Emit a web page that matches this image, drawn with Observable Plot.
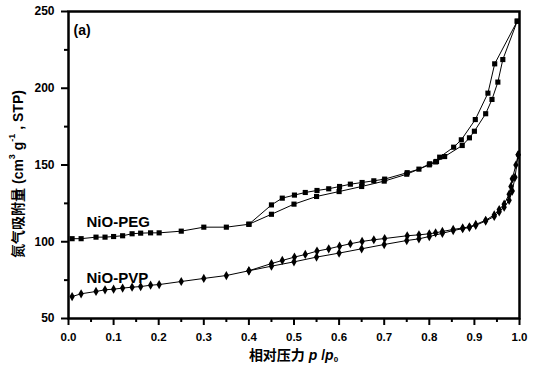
<!DOCTYPE html>
<html>
<head>
<meta charset="utf-8">
<script src="https://cdn.jsdelivr.net/npm/d3@7"></script>
<script src="https://cdn.jsdelivr.net/npm/@observablehq/plot@0.6"></script>
<style>
  html, body { margin: 0; padding: 0; background: #fff; }
  #chart { width: 533px; height: 371px; }
</style>
</head>
<body>
<div id="chart"></div>
<script>
// NiO-PEG adsorption branch (p/p0, volume)
const pegAdsP = [0.008,0.028,0.061,0.081,0.10,0.12,0.141,0.16,0.182,0.201,0.25,0.30,0.35,0.40,0.45,0.50,0.55,0.60,0.65,0.70,0.75,0.80,0.816,0.834,0.873,0.889,0.90,0.925,0.939,0.952,0.963,0.995];
const pegAdsV = [102,102,103,103,103.4,103.9,105.2,105.6,105.8,105.8,106.9,109.5,109.5,111.4,117.9,124.5,129.5,132.7,136,139.5,144,150.1,152.3,155.5,162.7,167.7,172,183.4,192.7,204,218.7,243.7];
// NiO-PEG desorption branch
const pegDesP = [0.995,0.945,0.930,0.902,0.871,0.854,0.823,0.814,0.801,0.777,0.751,0.701,0.677,0.651,0.625,0.601,0.577,0.551,0.525,0.501,0.474,0.45,0.40];
const pegDesV = [243.7,215.9,196.8,179.6,166.4,161.6,155.1,152,150.8,147.3,145,140.8,139.7,138.6,137.5,136.0,134.5,133.4,132.1,130.4,128.4,124,111.4];
// NiO-PVP adsorption branch
const pvpAdsP = [0.008,0.028,0.061,0.081,0.10,0.12,0.141,0.16,0.182,0.201,0.25,0.30,0.35,0.40,0.45,0.50,0.55,0.60,0.65,0.70,0.75,0.777,0.80,0.829,0.853,0.874,0.889,0.903,0.925,0.944,0.955,0.966,0.977,0.984,0.99,0.997];
const pvpAdsV = [64.3,66.1,67.6,68.7,69.1,69.8,70.4,70.8,71.7,72.1,74.1,76.1,78,81.1,84.1,86.9,90,92.6,95.4,98.2,100.8,101.9,103.4,105.5,107.3,108.5,109.3,110.7,113.5,116.5,119.5,122.5,127,133,142,156.6];
// NiO-PVP desorption branch
const pvpDesP = [0.997,0.992,0.984,0.981,0.977,0.966,0.955,0.944,0.925,0.903,0.889,0.874,0.853,0.829,0.814,0.80,0.777,0.751,0.701,0.677,0.651,0.625,0.601,0.577,0.551,0.525,0.501,0.474,0.45,0.40];
const pvpDesV = [156.6,150,141,136,131,124.5,121,117.5,114,111.3,109.7,109,108,106.7,105.8,105.2,104.5,103.9,102.1,101.3,100.2,98.7,97.1,95.4,93.9,91.7,90,87.8,85.8,81.1];

// series labels
const seriesNames = ["NiO-PEG", "NiO-PVP"];
const seriesLabelP = [0.04, 0.04];
const seriesLabelV = [112.9, 76.4];

// ticks
const xMajorTicks = [0,0.1,0.2,0.3,0.4,0.5,0.6,0.7,0.8,0.9,1.0];
const xMinorTicks = [0.05,0.15,0.25,0.35,0.45,0.55,0.65,0.75,0.85,0.95];
const yMajorTicks = [50,100,150,200,250];
const yMinorTicks = [75,125,175,225];

const rows = (ps, vs, s, b) => ps.map((p, i) => ({p, v: vs[i], s, b}));
const peg = [...rows(pegAdsP, pegAdsV, "PEG", "ads"), ...rows(pegDesP, pegDesV, "PEG", "des")];
const pvp = [...rows(pvpAdsP, pvpAdsV, "PVP", "ads"), ...rows(pvpDesP, pvpDesV, "PVP", "des")];
const labels = seriesNames.map((n, i) => ({n, p: seriesLabelP[i], v: seriesLabelV[i]}));

const font = "'Liberation Sans', Arial, 'Noto Sans CJK SC', sans-serif";

const svg = Plot.plot({
  width: 533,
  height: 371,
  marginLeft: 68,
  marginRight: 14,
  marginTop: 11,
  marginBottom: 53,
  style: {fontFamily: font, fontSize: "11.5px", fontWeight: "bold", color: "black", background: "white"},
  x: {domain: [0, 1]},
  y: {domain: [50, 250]},
  marks: [
    Plot.axisX({ticks: xMajorTicks, tickSize: 7, tickPadding: 7, tickFormat: d3.format(".1f"), label: null, strokeWidth: 2}),
    Plot.axisX({ticks: xMinorTicks, tickSize: 4, tickFormat: () => "", label: null, strokeWidth: 2}),
    Plot.axisY({ticks: yMajorTicks, tickSize: 7, tickPadding: 7, label: null, strokeWidth: 2, fontSize: 12}),
    Plot.axisY({ticks: yMinorTicks, tickSize: 4, tickFormat: () => "", label: null, strokeWidth: 2}),
    Plot.line(peg, {x: "p", y: "v", z: "b", stroke: "black", strokeWidth: 1}),
    Plot.line(pvp, {x: "p", y: "v", z: "b", stroke: "black", strokeWidth: 1}),
    Plot.dot(peg, {x: "p", y: "v", symbol: "square", r: 2.9, fill: "black", stroke: null}),
    Plot.dot(pvp, {x: "p", y: "v", symbol: "diamond", r: 2.8, fill: "black", stroke: null}),
    Plot.text(labels, {x: "p", y: "v", text: "n", textAnchor: "start", fontSize: 15, fontWeight: "bold", fill: "black"}),
    Plot.text(["(a)"], {frameAnchor: "top-left", dx: 5, dy: 14, textAnchor: "start", fontSize: 14, fontWeight: "bold", fill: "black"}),
    Plot.frame({stroke: "black", strokeWidth: 2.5})
  ]
});

const s = d3.select(svg);
// y axis title
const yl = s.append("text")
  .attr("transform", "translate(18,174) rotate(-90)")
  .attr("text-anchor", "middle")
  .attr("dominant-baseline", "central")
  .attr("font-size", 14)
  .attr("font-weight", "bold")
  .attr("fill", "black");
yl.append("tspan").text("氮气吸附量 (cm");
yl.append("tspan").attr("font-size", 9).attr("dy", -6).text("3");
yl.append("tspan").attr("dy", 6).text(" g");
yl.append("tspan").attr("font-size", 9).attr("dy", -6).text("-1");
yl.append("tspan").attr("dy", 6).text(" , STP)");
// x axis title
const xl = s.append("text")
  .attr("x", 293.5).attr("y", 355)
  .attr("text-anchor", "middle")
  .attr("dominant-baseline", "central")
  .attr("font-size", 14)
  .attr("font-weight", "bold")
  .attr("fill", "black");
xl.append("tspan").text("相对压力 ");
xl.append("tspan").attr("font-style", "italic").text("p");
xl.append("tspan").text(" /");
xl.append("tspan").attr("font-style", "italic").text("p");
xl.append("tspan").attr("font-size", 8).attr("dy", 4).text("0");

document.getElementById("chart").appendChild(svg);
</script>
</body>
</html>
